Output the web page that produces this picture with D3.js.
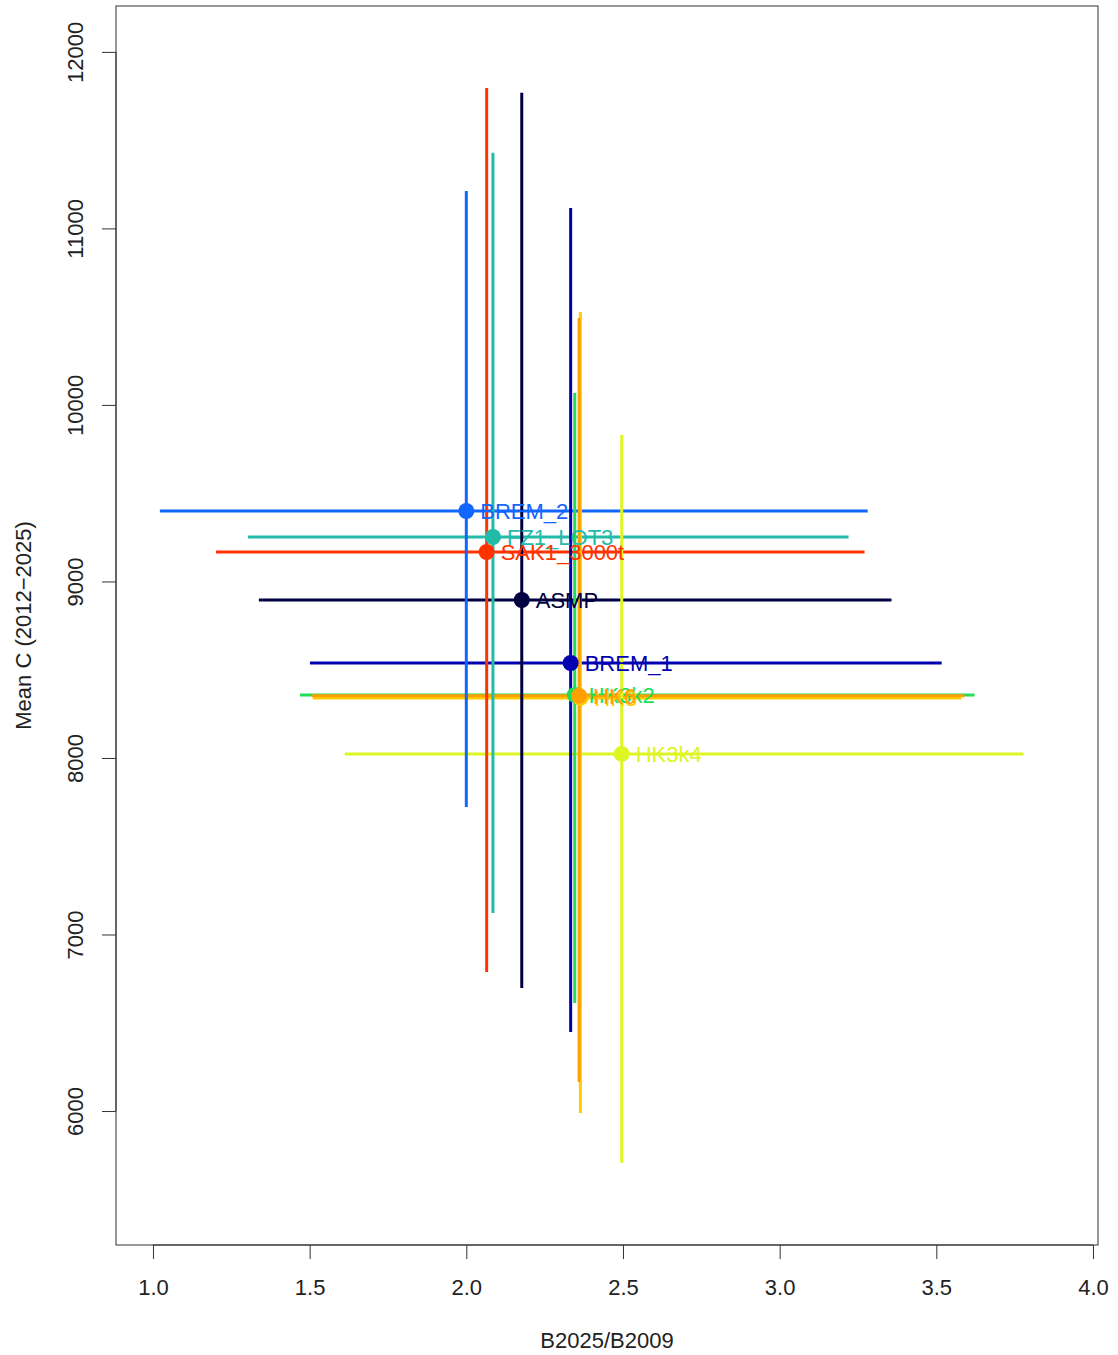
<!DOCTYPE html>
<html><head><meta charset="utf-8">
<script src="https://cdn.jsdelivr.net/npm/d3@7"></script>
<style>body{margin:0;background:#fff;} svg{display:block;}</style>
</head><body><svg id="c" width="1118" height="1355"></svg>
<script>
const names   = ["ASMP","BREM_1","BREM_2","FZ1_LOT3","HK3k2","HK3k4","HK3","HK6","SAK1_3000t"];
const colors  = ["#000040","#0000b0","#1166ff","#22bbaa","#22dd55","#ddf522","#ffcc00","#ffa000","#ff3300"];
const xMid    = [2.177,2.333,2.000,2.085,2.346,2.496,2.364,2.360,2.065];
const xLow    = [1.338,1.501,1.022,1.303,1.469,1.612,1.510,1.507,1.201];
const xHigh   = [3.357,3.517,3.281,3.220,3.622,3.778,3.580,3.590,3.271];
const yMid    = [8895,8538,9399,9252,8357,8023,8340,8352,9167];
const yLow    = [6697,6448,7722,7122,6612,5705,5989,6164,6788];
const yHigh   = [11768,11116,11212,11428,10068,9830,10527,10493,11796];
const xTicks  = [1.0,1.5,2.0,2.5,3.0,3.5,4.0];
const yTicks  = [6000,7000,8000,9000,10000,11000,12000];

const L=116,T=6,R=1098,B=1245;
const svg=d3.select("#c");
const x=d3.scaleLinear().domain([0.882,4.016]).range([L,R]);
const y=d3.scaleLinear().domain([5241,12260]).range([B,T]);
const font="'Liberation Sans', Arial, sans-serif";
const data=names.map((n,i)=>({n,c:colors[i],x:xMid[i],xl:xLow[i],xh:xHigh[i],y:yMid[i],yl:yLow[i],yh:yHigh[i]}));

// horizontal segments
svg.append("g").selectAll("line").data(data).join("line")
  .attr("x1",d=>x(d.xl)).attr("x2",d=>x(d.xh))
  .attr("y1",d=>y(d.y)).attr("y2",d=>y(d.y))
  .attr("stroke",d=>d.c).attr("stroke-width",3);
// vertical segments
svg.append("g").selectAll("line").data(data).join("line")
  .attr("x1",d=>x(d.x)).attr("x2",d=>x(d.x))
  .attr("y1",d=>y(d.yl)).attr("y2",d=>y(d.yh))
  .attr("stroke",d=>d.c).attr("stroke-width",3);
// points
svg.append("g").selectAll("circle").data(data).join("circle")
  .attr("cx",d=>x(d.x)).attr("cy",d=>y(d.y)).attr("r",8).attr("fill",d=>d.c);
// labels
svg.append("g").selectAll("text").data(data).join("text")
  .attr("x",d=>x(d.x)+14).attr("y",d=>y(d.y)+8)
  .attr("fill",d=>d.c).attr("font-family",font).attr("font-size",22)
  .text(d=>d.n);

// box
svg.append("rect").attr("x",L).attr("y",T).attr("width",R-L).attr("height",B-T)
  .attr("fill","none").attr("stroke","#333").attr("stroke-width",1);

// x axis
const xa=svg.append("g").attr("transform",`translate(0,${B})`)
  .call(d3.axisBottom(x).tickValues(xTicks).tickFormat(d3.format(".1f")).tickSize(14).tickPadding(20));
xa.select(".domain").attr("d",`M${x(1)},0H${x(4)}`).attr("stroke","#333");
xa.selectAll(".tick line").attr("stroke","#333");
xa.selectAll("text").attr("font-family",font).attr("font-size",22).attr("fill","#222");

// y axis
const ya=svg.append("g").attr("transform",`translate(${L},0)`)
  .call(d3.axisLeft(y).tickValues(yTicks).tickFormat(d3.format("d")).tickSize(14).tickPadding(0));
ya.select(".domain").attr("d",`M0,${y(6000)}V${y(12000)}`).attr("stroke","#333");
ya.selectAll(".tick line").attr("stroke","#333");
ya.selectAll("text").attr("font-family",font).attr("font-size",22).attr("fill","#222")
  .attr("text-anchor","middle").attr("x",0).attr("dy",0)
  .attr("transform","translate(-33,0) rotate(-90)");

// titles
svg.append("text").attr("x",(L+R)/2).attr("y",1348).attr("text-anchor","middle")
  .attr("font-family",font).attr("font-size",22).attr("fill","#222").text("B2025/B2009");
svg.append("text").attr("transform",`translate(31,${(T+B)/2}) rotate(-90)`).attr("text-anchor","middle")
  .attr("font-family",font).attr("font-size",22).attr("fill","#222").text("Mean C (2012\u22122025)");
</script></body></html>
